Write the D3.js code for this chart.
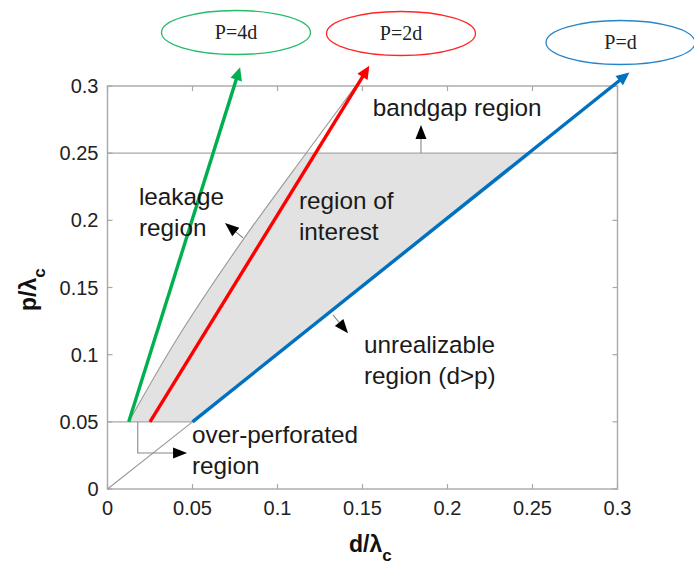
<!DOCTYPE html>
<html>
<head>
<meta charset="utf-8">
<script src="https://cdn.jsdelivr.net/npm/d3@7"></script>
<style>
  html, body { margin: 0; padding: 0; background: #fff; }
  svg { display: block; }
  .ann { font-family: "Liberation Sans", Arial, sans-serif; font-size: 24.3px; fill: #1a1a1a; }
  .tick-label { font-family: "Liberation Sans", Arial, sans-serif; font-size: 20px; fill: #222; }
  .title { font-family: "Liberation Sans", Arial, sans-serif; font-size: 23px; font-weight: bold; fill: #111; }
  .tag { font-family: "Liberation Serif", "Times New Roman", serif; font-size: 20px; fill: #222; }
</style>
</head>
<body>
<svg id="chart" width="694" height="566"></svg>
<script>
// Axis ticks (both axes share the same values)
const tickValues = [0, 0.05, 0.1, 0.15, 0.2, 0.25, 0.3];
const tickLabels = ["0", "0.05", "0.1", "0.15", "0.2", "0.25", "0.3"];

// Design lines p = k·d, drawn from the p = 0.05 floor up past the top of the plot
const lineNames  = ["P=4d", "P=2d", "P=d"];
const lineColors = ["#00b050", "#ff0000", "#0070c0"];
const lineStart  = [[0.0125, 0.05], [0.025, 0.05], [0.05, 0.05]];
const lineEnd    = [[0.078, 0.314], [0.154, 0.315], [0.307, 0.31]];

// Leakage boundary (upper-left edge of the region of interest)
const leakageD = [0.0125, 0.04, 0.08, 0.118, 0.146];
const leakageP = [0.05, 0.11, 0.186, 0.252, 0.30];

// Limits
const bandgapP = 0.25;      // p upper limit
const perforationP = 0.05;  // p lower limit

// Region labels and pointers
const labelLines = [
  ["bandgap region"],
  ["leakage", "region"],
  ["region of", "interest"],
  ["unrealizable", "region (d>p)"],
  ["over-perforated", "region"]
];
const labelD = [0.156, 0.0185, 0.1126, 0.1509, 0.0497];
const labelP = [0.2777, 0.2115, 0.2085, 0.1012, 0.0342];
const pointerPaths = [
  [[0.1844, 0.25], [0.1844, 0.271]],
  [[0.0797, 0.187], [0.0691, 0.198]],
  [[0.1326, 0.1296], [0.1415, 0.116]],
  [[0.0178, 0.05], [0.0178, 0.0268], [0.0468, 0.0268]]
];

const svg = d3.select("#chart");
const x = d3.scaleLinear().domain([0, 0.3]).range([107.5, 617.5]);
const y = d3.scaleLinear().domain([0, 0.3]).range([489, 86]);
const frame = "#a8a8a8";

// Leakage boundary as a smooth curve, sampled so the fill follows it exactly
const leakPts = leakageD.map((d, i) => [d, leakageP[i]]);
const leakLine = d3.line().x(d => x(d[0])).y(d => y(d[1])).curve(d3.curveMonotoneY);
const leakPath = svg.append("path").attr("d", leakLine(leakPts)).attr("fill", "none");
const leakNode = leakPath.node();
const leakLen = leakNode.getTotalLength();
const samples = d3.range(0, 201).map(k => leakNode.getPointAtLength(leakLen * k / 200));
leakPath.remove();

// Shaded region of interest
const yBand = y(bandgapP);
const below = samples.filter(s => s.y >= yBand);
let crossX = below.length ? below[below.length - 1].x : x(0.118);
const roi = [[x(perforationP), y(perforationP)], [x(bandgapP), y(bandgapP)], [crossX, yBand]];
below.slice().reverse().forEach(s => roi.push([s.x, s.y]));
svg.append("path")
  .attr("d", d3.line()(roi) + "Z")
  .attr("fill", "#e2e2e2");

// Plot frame
svg.append("rect")
  .attr("x", x(0)).attr("y", y(0.3))
  .attr("width", x(0.3) - x(0)).attr("height", y(0) - y(0.3))
  .attr("fill", "none").attr("stroke", frame).attr("stroke-width", 1.4);

// Inward ticks on all four sides
const tl = 5;
const tickG = svg.append("g").attr("stroke", frame).attr("stroke-width", 1.2);
tickValues.forEach(v => {
  tickG.append("line").attr("x1", x(v)).attr("x2", x(v)).attr("y1", y(0)).attr("y2", y(0) - tl);
  tickG.append("line").attr("x1", x(v)).attr("x2", x(v)).attr("y1", y(0.3)).attr("y2", y(0.3) + tl);
  tickG.append("line").attr("y1", y(v)).attr("y2", y(v)).attr("x1", x(0)).attr("x2", x(0) + tl);
  tickG.append("line").attr("y1", y(v)).attr("y2", y(v)).attr("x1", x(0.3)).attr("x2", x(0.3) - tl);
});

// Tick labels
tickValues.forEach((v, i) => {
  svg.append("text").attr("class", "tick-label")
    .attr("x", x(v)).attr("y", y(0) + 26).attr("text-anchor", "middle")
    .text(tickLabels[i]);
  svg.append("text").attr("class", "tick-label")
    .attr("x", x(0) - 9).attr("y", y(v) + 7).attr("text-anchor", "end")
    .text(tickLabels[i]);
});

// Limit lines, the p = d diagonal below the floor, and the leakage boundary
const thin = svg.append("g").attr("stroke", "#999").attr("stroke-width", 1.1).attr("fill", "none");
thin.append("line").attr("x1", x(0)).attr("x2", x(0.3)).attr("y1", y(bandgapP)).attr("y2", y(bandgapP))
  .attr("stroke", frame).attr("stroke-width", 1.4);
thin.append("line").attr("x1", x(0)).attr("x2", x(perforationP)).attr("y1", y(perforationP)).attr("y2", y(perforationP))
  .attr("stroke", frame).attr("stroke-width", 1.4);
thin.append("line").attr("x1", x(0)).attr("y1", y(0)).attr("x2", x(perforationP)).attr("y2", y(perforationP));
thin.append("path").attr("d", leakLine(leakPts));

// Filled arrowhead helper (pixel space)
function arrowHead(g, x1, y1, x2, y2, len, half, color) {
  const a = Math.atan2(y2 - y1, x2 - x1);
  const bx = x2 - len * Math.cos(a), by = y2 - len * Math.sin(a);
  const px = -Math.sin(a) * half, py = Math.cos(a) * half;
  g.append("path")
    .attr("d", `M${x2},${y2}L${bx + px},${by + py}L${bx - px},${by - py}Z`)
    .attr("fill", color);
  return [bx, by];
}

// Design lines with arrowheads
lineNames.forEach((name, i) => {
  const g = svg.append("g");
  const x1 = x(lineStart[i][0]), y1 = y(lineStart[i][1]);
  const x2 = x(lineEnd[i][0]), y2 = y(lineEnd[i][1]);
  const [bx, by] = arrowHead(g, x1, y1, x2, y2, 13, 6, lineColors[i]);
  g.insert("line", "path")
    .attr("x1", x1).attr("y1", y1).attr("x2", bx + (x2 - bx) * 0.3).attr("y2", by + (y2 - by) * 0.3)
    .attr("stroke", lineColors[i]).attr("stroke-width", 3.4);
});

// Line name callouts
const tagCx = [236, 401, 620.5];
const tagCy = [32.5, 33.5, 42.5];
lineNames.forEach((name, i) => {
  svg.append("ellipse")
    .attr("cx", tagCx[i]).attr("cy", tagCy[i]).attr("rx", 74.5).attr("ry", 22)
    .attr("fill", "none").attr("stroke", lineColors[i]).attr("stroke-width", 1.3).attr("opacity", 0.85);
  svg.append("text").attr("class", "tag")
    .attr("x", tagCx[i]).attr("y", tagCy[i] + 6.5).attr("text-anchor", "middle")
    .text(name);
});

// Region pointers
pointerPaths.forEach(pts => {
  const g = svg.append("g");
  const px = pts.map(p => [x(p[0]), y(p[1])]);
  const n = px.length;
  const [bx, by] = arrowHead(g, px[n - 2][0], px[n - 2][1], px[n - 1][0], px[n - 1][1], 14, 5.5, "#000");
  const stem = px.slice(0, n - 1).concat([[bx, by]]);
  g.insert("path", "path")
    .attr("d", d3.line()(stem))
    .attr("fill", "none").attr("stroke", "#888").attr("stroke-width", 1.1);
});

// Region labels
labelLines.forEach((lines, i) => {
  const t = svg.append("text").attr("class", "ann");
  lines.forEach((ln, j) => {
    t.append("tspan").attr("x", x(labelD[i])).attr("y", y(labelP[i]) + j * 31).text(ln);
  });
});

// Axis titles
const xt = svg.append("text").attr("class", "title").attr("x", 349).attr("y", 552);
xt.append("tspan").text("d/λ");
xt.append("tspan").attr("dy", 9).attr("font-size", 17).text("c");

const yt = svg.append("text").attr("class", "title")
  .attr("transform", "translate(36,311) rotate(-90)");
yt.append("tspan").text("p/λ");
yt.append("tspan").attr("dy", 9).attr("font-size", 17).text("c");
</script>
</body>
</html>
